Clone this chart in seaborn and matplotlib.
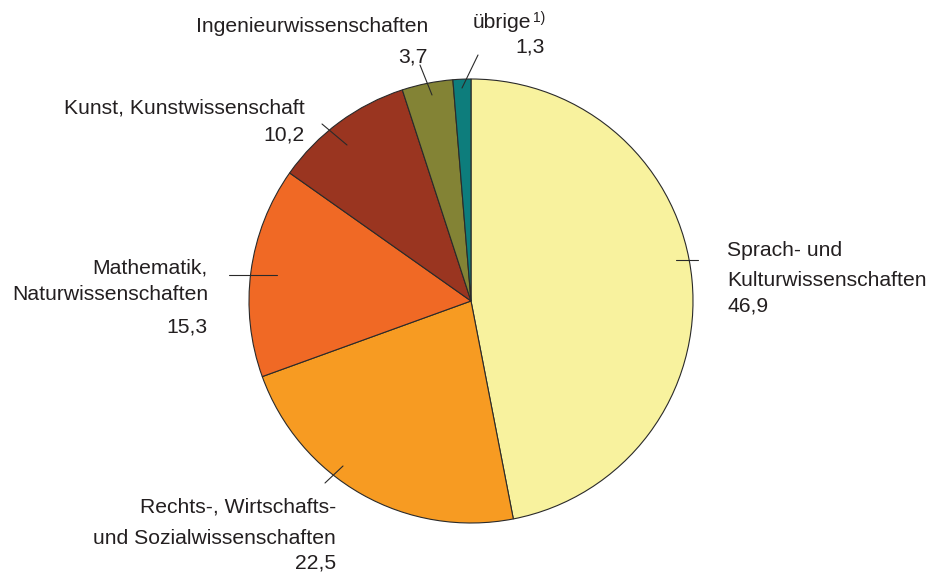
import matplotlib
matplotlib.use("Agg")
import matplotlib.pyplot as plt
import seaborn as sns

sns.set_theme(style="white")
plt.rcParams["font.family"] = ["Liberation Sans", "DejaVu Sans"]

# Anteile in Prozent, im Uhrzeigersinn ab 12 Uhr
faecher = ["Sprach- und Kulturwissenschaften", "Rechts-, Wirtschafts- und Sozialwissenschaften",
           "Mathematik, Naturwissenschaften", "Kunst, Kunstwissenschaft",
           "Ingenieurwissenschaften", "übrige"]
anteile = [46.9, 22.5, 15.3, 10.2, 3.7, 1.3]
werte_txt = ["46,9", "22,5", "15,3", "10,2", "3,7", "1,3"]
farben = ["#F8F29E", "#F79B22", "#F06925", "#9A3520", "#838335", "#0D7D7C"]

W, H = 933, 573
fig = plt.figure(figsize=(W / 100, H / 100), dpi=100)
ax = fig.add_axes([0, 0, 1, 1])

# pie in Pixelkoordinaten (y gespiegelt -> counterclock=True ergibt Uhrzeigersinn)
wedges, _ = ax.pie(anteile, colors=farben, startangle=-90, counterclock=True,
                   center=(471, 301), radius=222,
                   wedgeprops=dict(edgecolor="#2a2a2a", linewidth=0.8))
ax.set_xlim(0, W)
ax.set_ylim(H, 0)
ax.set_aspect("equal")
ax.axis("off")

fs = 15.2
tc = "#231f20"

def txt(x, y, s, ha="right", size=fs, **kw):
    ax.text(x, y, s, ha=ha, va="center", fontsize=size, color=tc, **kw)

# Beschriftungen
txt(727, 250, "Sprach- und", ha="left")
txt(727, 280, "Kulturwissenschaften", ha="left")
txt(727, 306, werte_txt[0], ha="left")

txt(336, 507, "Rechts-, Wirtschafts-")
txt(336, 538, "und Sozialwissenschaften")
txt(336, 563, werte_txt[1])

txt(208, 268, "Mathematik,")
txt(208, 295, "Naturwissenschaften")
txt(208, 327, werte_txt[2])

txt(305, 108, "Kunst, Kunstwissenschaft")
txt(305, 135, werte_txt[3])

txt(428, 27, "Ingenieurwissenschaften")
txt(428, 57, werte_txt[4])

txt(531, 23, "übrige")
txt(545, 18, "1)", size=10)
txt(545, 47, werte_txt[5])

# Hinweislinien
linien = [((676, 698), (260, 260)),
          ((325, 343), (483, 466)),
          ((229, 277), (275, 275)),
          ((322, 347), (124, 145)),
          ((420, 432), (65, 95)),
          ((478, 462), (55, 88))]
for xs, ys in linien:
    ax.plot(xs, ys, color="#2a2a2a", linewidth=0.8)

fig.savefig("out.png", dpi=100, facecolor="white")
